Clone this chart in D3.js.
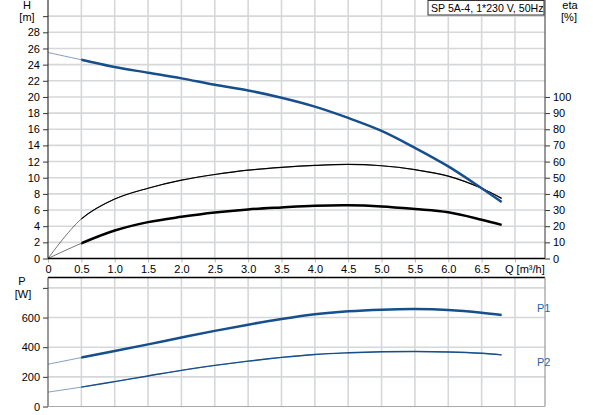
<!DOCTYPE html>
<html>
<head>
<meta charset="utf-8">
<script src="https://cdn.jsdelivr.net/npm/d3@7"></script>
<style>
  body { margin: 0; background: #fff; }
  svg { font-family: "Liberation Sans", Arial, sans-serif; }
</style>
</head>
<body>
<script>
// flow points, m3/h
var flow    = [0, 0.5, 1.0, 1.5, 2.0, 2.5, 3.0, 3.5, 4.0, 4.5, 5.0, 5.5, 6.0, 6.5, 6.8];
// head, m
var head    = [25.5, 24.6, 23.7, 23.0, 22.3, 21.5, 20.8, 19.9, 18.8, 17.4, 15.8, 13.7, 11.4, 8.7, 7.0];
// pump efficiency (thin) and total efficiency (thick), %
var etaPump = [0, 24.5, 36.8, 43.5, 48.5, 52, 54.7, 56.4, 57.6, 58.2, 57.4, 55, 51, 43.5, 37.2];
var etaTot  = [0, 9.4, 17.3, 22.5, 25.8, 28.5, 30.4, 31.6, 32.6, 32.9, 32.2, 30.6, 28.6, 24.0, 20.8];
// power input P1 and shaft power P2, W
var powerP1 = [285, 330, 374, 419, 465, 510, 552, 590, 622, 642, 653, 657, 651, 633, 617];
var powerP2 = [97, 131, 168, 206, 244, 277, 306, 331, 351, 362, 369, 371, 368, 359, 348];

var qTicks   = d3.range(0, 7.01, 0.5);
var hTicks   = d3.range(0, 31, 2);
var etaTicks = d3.range(0, 101, 10);
var pTicks   = [0, 200, 400, 600, 800];
var title    = "SP 5A-4, 1*230 V, 50Hz";

var width = 593, height = 415;
var blue = "#174f8c";

var svg = d3.select("body").append("svg")
    .attr("width", width)
    .attr("height", height);

var x  = d3.scaleLinear().domain([0, 7.45]).range([48, 545]);
var yH = d3.scaleLinear().domain([0, 32]).range([258.5, 0]);
var yE = d3.scaleLinear().domain([0, 160]).range([258.5, 0]);
var yP = d3.scaleLinear().domain([0, 870]).range([406.5, 277.5]);

// clip: the strong part of each curve starts at Q = 0.5
svg.append("clipPath").attr("id", "duty")
  .append("rect")
    .attr("x", x(0.5)).attr("y", 0)
    .attr("width", width).attr("height", height);

function pts(ys) {
    return flow.map(function(q, i) { return [q, ys[i]]; });
}

// ---- grids
function grid(ys, yscale, top, bottom) {
    var g = svg.append("g").attr("stroke", "#d5d7d9").attr("stroke-width", 1.6);
    g.selectAll(".v").data(qTicks.filter(function(d) { return d > 0; }))
      .enter().append("line")
        .attr("x1", function(d) { return x(d); })
        .attr("x2", function(d) { return x(d); })
        .attr("y1", top).attr("y2", bottom);
    g.selectAll(".h").data(ys)
      .enter().append("line")
        .attr("x1", x.range()[0]).attr("x2", x.range()[1])
        .attr("y1", function(d) { return yscale(d); })
        .attr("y2", function(d) { return yscale(d); });
}
grid(hTicks.filter(function(d) { return d > 0; }), yH, 0, yH(0));
grid([200, 400, 600, 800], yP, yP.range()[1], yP(0));

// ---- curves
function curve(ys, yscale, color, w) {
    var line = d3.line()
        .x(function(d) { return x(d[0]); })
        .y(function(d) { return yscale(d[1]); })
        .curve(d3.curveCatmullRom.alpha(0.5));
    var d = line(pts(ys));
    svg.append("path")
        .attr("d", d)
        .attr("fill", "none")
        .attr("stroke", color)
        .attr("stroke-opacity", 0.55)
        .attr("stroke-width", 1);
    svg.append("path")
        .attr("d", d)
        .attr("clip-path", "url(#duty)")
        .attr("fill", "none")
        .attr("stroke", color)
        .attr("stroke-width", w);
}
curve(etaPump, yE, "#000", 1.2);
curve(etaTot, yE, "#000", 2.5);
curve(head, yH, blue, 2.5);
curve(powerP1, yP, blue, 2.5);
curve(powerP2, yP, blue, 1.4);

// ---- axes, top panel
var axH = svg.append("g")
    .attr("transform", "translate(" + x(0) + ",0)")
    .call(d3.axisLeft(yH).tickValues(hTicks).tickSize(5).tickPadding(3)
        .tickFormat(function(d) { return d === 30 ? "" : d; }));

var axE = svg.append("g")
    .attr("transform", "translate(" + x.range()[1] + ",0)")
    .call(d3.axisRight(yE).tickValues(etaTicks).tickSize(5).tickPadding(3));

var axQ = svg.append("g")
    .attr("transform", "translate(0," + yH(0) + ")")
    .call(d3.axisBottom(x).tickValues(qTicks).tickSize(4).tickPadding(3)
        .tickFormat(function(d) { return d === 7 ? "" : (d === 0 ? "0" : d3.format(".1f")(d)); }));

// ---- axes, bottom panel
var axP = svg.append("g")
    .attr("transform", "translate(" + x(0) + ",0)")
    .call(d3.axisLeft(yP).tickValues(pTicks).tickSize(5).tickPadding(3)
        .tickFormat(function(d) { return d === 800 ? "" : d; }));

[axH, axE, axQ, axP].forEach(function(a) {
    a.select(".domain").remove();
    a.selectAll("text").attr("font-size", 11).attr("font-family", "Liberation Sans, Arial, sans-serif").attr("fill", "#000");
    a.selectAll("line").attr("stroke", "#333");
});
axQ.selectAll("line").attr("stroke", "#bbb");

// frame lines
svg.append("line").attr("x1", x(0)).attr("x2", x(0)).attr("y1", 0).attr("y2", yH(0))
    .attr("stroke", "#333").attr("stroke-width", 1.2);
svg.append("line").attr("x1", x.range()[1]).attr("x2", x.range()[1]).attr("y1", 0).attr("y2", yH(0))
    .attr("stroke", "#555").attr("stroke-width", 1.2);
svg.append("line").attr("x1", x(0)).attr("x2", x.range()[1]).attr("y1", yH(0)).attr("y2", yH(0))
    .attr("stroke", "#000").attr("stroke-width", 1.5);

svg.append("line").attr("x1", x(0)).attr("x2", x.range()[1]).attr("y1", yP.range()[1]).attr("y2", yP.range()[1])
    .attr("stroke", "#000").attr("stroke-width", 1.5);
svg.append("line").attr("x1", x(0)).attr("x2", x(0)).attr("y1", yP.range()[1]).attr("y2", yP(0))
    .attr("stroke", "#555").attr("stroke-width", 1.2);
svg.append("line").attr("x1", x.range()[1]).attr("x2", x.range()[1]).attr("y1", yP.range()[1]).attr("y2", yP(0))
    .attr("stroke", "#999").attr("stroke-width", 1.2);
svg.append("line").attr("x1", x(0)).attr("x2", x.range()[1]).attr("y1", yP(0)).attr("y2", yP(0))
    .attr("stroke", "#aaa").attr("stroke-width", 1.2);

// ---- axis titles
function label(tx, ty, s, anchor, color) {
    return svg.append("text")
        .attr("x", tx).attr("y", ty)
        .attr("font-size", 11)
        .attr("text-anchor", anchor || "middle")
        .attr("fill", color || "#000")
        .text(s);
}
label(27, 9, "H");
label(27, 21, "[m]");
label(570, 9, "eta");
label(569, 21, "[%]");
label(505, 273, "Q [m\u00b3/h]", "start");
label(22, 285, "P");
label(23, 298, "[W]");
label(537, 312, "P1", "start", "#2a64a8");
label(537, 366, "P2", "start", "#2a64a8");

// ---- title box
svg.append("rect")
    .attr("x", 428).attr("y", 0.5)
    .attr("width", 116).attr("height", 14.5)
    .attr("fill", "#fff").attr("stroke", "#333").attr("stroke-width", 1);
label(431, 11.5, title, "start").attr("font-size", 10.6);
</script>
</body>
</html>
